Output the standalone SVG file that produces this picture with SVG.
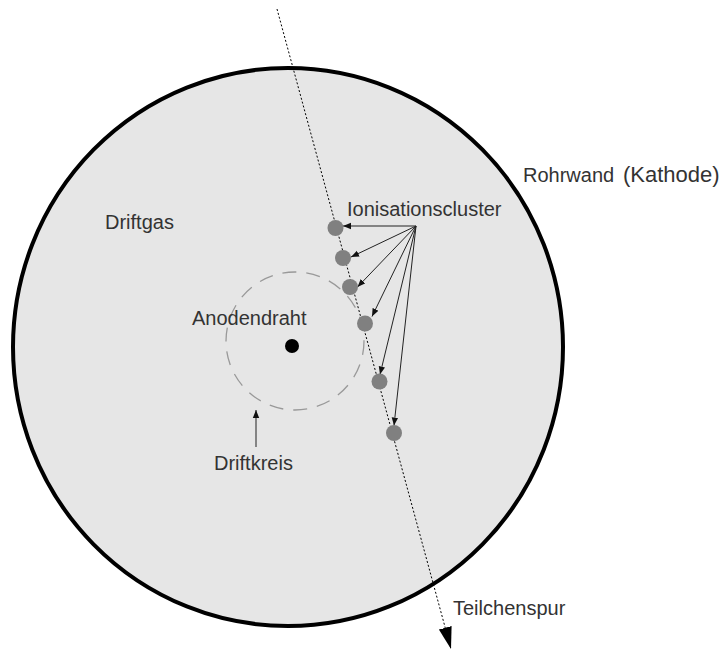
<svg xmlns="http://www.w3.org/2000/svg" width="724" height="650" viewBox="0 0 724 650">
<style>
text{font-family:"Liberation Sans",Arial,sans-serif;font-size:20px;fill:#333}
.cl{fill:#808080}
.ar{stroke:#222;stroke-width:1;fill:none;marker-end:url(#ah)}
</style>
<defs>
<marker id="ah" viewBox="0 0 10 10" refX="10" refY="5" markerWidth="8" markerHeight="8" markerUnits="userSpaceOnUse" orient="auto"><path d="M0,1 L10,5 L0,9 z" fill="#111"/></marker>
<marker id="big" viewBox="0 0 10 10" refX="10" refY="5" markerWidth="22" markerHeight="22" markerUnits="userSpaceOnUse" orient="auto"><path d="M0,2 L10,5 L0,8 z" fill="#000"/></marker>
</defs>
<rect width="724" height="650" fill="#fff"/>
<g id="rohr">
<ellipse cx="288" cy="347" rx="275" ry="279" fill="#e6e6e6" stroke="#000" stroke-width="4"/>
</g>
<g id="driftkreis-circle">
<circle cx="295" cy="341" r="69" fill="none" stroke="#999" stroke-width="1.3" stroke-dasharray="14,10"/>
</g>
<g id="anode"><circle cx="292" cy="346" r="7" fill="#000"/></g>
<g id="connectors">
<line x1="277" y1="9" x2="451" y2="649" stroke="#000" stroke-width="1" stroke-dasharray="2,2" marker-end="url(#big)"/>
<line class="ar" x1="416" y1="226" x2="343" y2="226"/>
<line class="ar" x1="416" y1="226" x2="351" y2="257"/>
<line class="ar" x1="416" y1="226" x2="357.5" y2="287"/>
<line class="ar" x1="416" y1="226" x2="372" y2="316.5"/>
<line class="ar" x1="416" y1="226" x2="380" y2="374.5"/>
<line class="ar" x1="416" y1="226" x2="394" y2="425.5"/>
<line class="ar" x1="256" y1="447" x2="256" y2="410"/>
</g>
<g id="clusters">
<circle class="cl" cx="335.5" cy="228" r="8"/>
<circle class="cl" cx="343" cy="258" r="8"/>
<circle class="cl" cx="350" cy="287" r="8"/>
<circle class="cl" cx="365" cy="323.5" r="8"/>
<circle class="cl" cx="379.5" cy="381.5" r="8"/>
<circle class="cl" cx="394" cy="433" r="8"/>
</g>
<g id="labels">
<text x="105" y="229">Driftgas</text>
<text x="347" y="216">Ionisationscluster</text>
<text x="192" y="325">Anodendraht</text>
<text x="214" y="470">Driftkreis</text>
<text x="453" y="615">Teilchenspur</text>
<text x="523" y="182">Rohrwand</text>
<text x="623" y="182" style="font-size:22px">(Kathode)</text>
</g>
</svg>
